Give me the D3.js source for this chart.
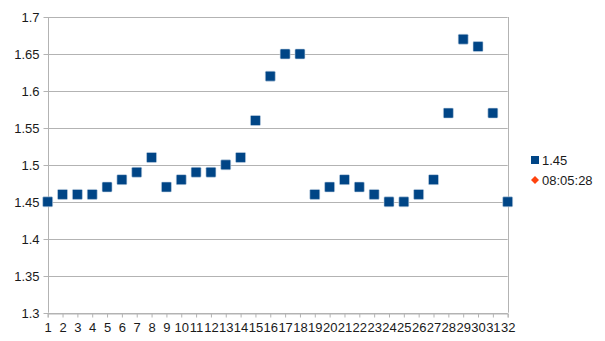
<!DOCTYPE html>
<html lang="en">
<head>
<meta charset="UTF-8">
<title>Scatter</title>
<script src="https://cdn.jsdelivr.net/npm/d3@7"></script>
<style>
    body { margin: 0; background: #fff; }
    text { font-family: "Liberation Sans", Arial, sans-serif; fill: #1a1a1a; }
    .grid line { stroke: #b3b3b3; stroke-width: 1px; }
</style>
</head>
<body>
<div id="chart"></div>
<script>
    /* global d3 */

    var categories = d3.range(1, 33);
    var series1 = [1.45, 1.46, 1.46, 1.46, 1.47, 1.48, 1.49, 1.51, 1.47, 1.48,
                   1.49, 1.49, 1.50, 1.51, 1.56, 1.62, 1.65, 1.65, 1.46, 1.47,
                   1.48, 1.47, 1.46, 1.45, 1.45, 1.46, 1.48, 1.57, 1.67, 1.66,
                   1.57, 1.45];
    var series2 = []; // no visible points for the second series
    var yTicks = [1.3, 1.35, 1.4, 1.45, 1.5, 1.55, 1.6, 1.65, 1.7];
    var legendNames = ["1.45", "08:05:28"];
    var colors = ["#004586", "#ff420e"];

    var width = 605, height = 341;
    var plotLeft = 47.7, plotRight = 507.7, plotTop = 17, plotBottom = 312.7;

    var svg = d3.select("#chart").append("svg")
        .attr("width", width)
        .attr("height", height);

    var x = d3.scalePoint().domain(categories).range([plotLeft, plotRight]);
    var y = d3.scaleLinear().domain([1.3, 1.7]).range([plotBottom, plotTop]);

    // horizontal grid
    svg.append("g")
        .attr("class", "grid")
        .selectAll("line")
        .data(yTicks)
        .enter().append("line")
        .attr("x1", plotLeft).attr("x2", plotRight)
        .attr("y1", function(d) { return Math.round(y(d)) + 0.5; })
        .attr("y2", function(d) { return Math.round(y(d)) + 0.5; });

    // side borders
    svg.append("g").attr("class", "grid")
        .selectAll("line")
        .data([plotLeft, plotRight])
        .enter().append("line")
        .attr("x1", function(d) { return Math.round(d) + 0.5; })
        .attr("x2", function(d) { return Math.round(d) + 0.5; })
        .attr("y1", plotTop).attr("y2", plotBottom);

    var yAxis = svg.append("g")
        .attr("transform", "translate(" + (Math.round(plotLeft) + 0.5) + ",0)")
        .call(d3.axisLeft(y).tickValues(yTicks).tickSize(5).tickPadding(4)
            .tickFormat(function(d) { return String(+d.toFixed(2)); }));
    yAxis.select(".domain").remove();
    yAxis.selectAll(".tick line").attr("stroke", "#b3b3b3");
    yAxis.selectAll(".tick").attr("transform", function(d) {
        return "translate(0," + (Math.round(y(d)) + 0.5) + ")";
    });
    yAxis.selectAll("text").style("font-size", "13px");

    var xAxis = svg.append("g")
        .attr("transform", "translate(0," + (Math.round(plotBottom) + 0.5) + ")")
        .call(d3.axisBottom(x).tickSize(4).tickPadding(5));
    xAxis.select(".domain").attr("stroke", "#b3b3b3");
    xAxis.selectAll(".tick line").attr("stroke", "#b3b3b3");
    xAxis.selectAll("text").style("font-size", "13px");

    var size = 10;
    svg.append("g")
        .selectAll("rect")
        .data(series1)
        .enter().append("rect")
        .attr("x", function(d, i) { return x(categories[i]) - size / 2; })
        .attr("y", function(d) { return y(d) - size / 2; })
        .attr("width", size).attr("height", size)
        .attr("rx", 1)
        .attr("fill", colors[0])
        .attr("stroke", "#c9d6e6")
        .attr("stroke-width", 0.6);

    svg.append("g")
        .selectAll("path")
        .data(series2)
        .enter().append("path")
        .attr("d", d3.symbol(d3.symbolSquare, 50))
        .attr("transform", function(d, i) {
            return "translate(" + x(categories[i]) + "," + y(d) + ") rotate(45)";
        })
        .attr("fill", colors[1]);

    // legend
    var legend = svg.append("g").attr("transform", "translate(535,160)");
    legend.append("rect")
        .attr("x", -4).attr("y", -4).attr("width", 8).attr("height", 8)
        .attr("fill", colors[0]);
    legend.append("path")
        .attr("transform", "translate(0,20) rotate(45)")
        .attr("d", d3.symbol(d3.symbolSquare, 32))
        .attr("fill", colors[1]);
    legend.selectAll("text")
        .data(legendNames)
        .enter().append("text")
        .attr("x", 7)
        .attr("y", function(d, i) { return i * 20; })
        .attr("dy", "0.35em")
        .style("font-size", "13px")
        .text(function(d) { return d; });
</script>
</body>
</html>
